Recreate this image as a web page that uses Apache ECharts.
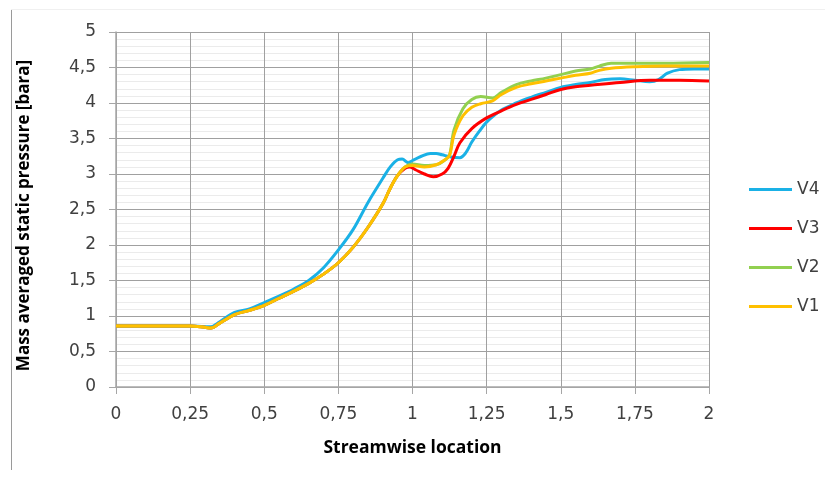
<!DOCTYPE html>
<html>
<head>
<meta charset="utf-8">
<script src="https://cdn.jsdelivr.net/npm/echarts@6/dist/echarts.min.js"></script>
<style>
  html, body { margin: 0; padding: 0; background: #fff; }
  #main { width: 825px; height: 477px; }
</style>
</head>
<body>
<div id="main"></div>
<script>
// streamwise location / pressure
const v4X = [0, 0.1, 0.2, 0.25, 0.3, 0.32, 0.35, 0.4, 0.45, 0.5, 0.55, 0.6, 0.65, 0.7, 0.75, 0.8, 0.85, 0.9, 0.925, 0.95, 0.965, 0.985, 1.0, 1.03, 1.06, 1.08, 1.1, 1.13, 1.16, 1.18, 1.2, 1.225, 1.25, 1.3, 1.35, 1.4, 1.45, 1.5, 1.55, 1.6, 1.65, 1.7, 1.75, 1.8, 1.83, 1.86, 1.9, 1.95, 2.0]
const v4Y = [0.86, 0.86, 0.86, 0.86, 0.85, 0.85, 0.92, 1.05, 1.1, 1.19, 1.28, 1.38, 1.5, 1.68, 1.93, 2.22, 2.6, 2.94, 3.1, 3.2, 3.21, 3.16, 3.19, 3.25, 3.29, 3.29, 3.27, 3.24, 3.23, 3.3, 3.45, 3.6, 3.73, 3.9, 4.0, 4.08, 4.15, 4.22, 4.26, 4.29, 4.33, 4.34, 4.32, 4.3, 4.33, 4.42, 4.47, 4.48, 4.48]

const v3X = [0, 0.1, 0.2, 0.25, 0.3, 0.32, 0.35, 0.4, 0.45, 0.5, 0.55, 0.6, 0.65, 0.7, 0.75, 0.8, 0.85, 0.9, 0.925, 0.95, 0.975, 0.99, 1.01, 1.04, 1.07, 1.1, 1.12, 1.14, 1.16, 1.2, 1.25, 1.3, 1.35, 1.4, 1.45, 1.5, 1.55, 1.6, 1.7, 1.8, 1.9, 2.0]
const v3Y = [0.86, 0.86, 0.86, 0.86, 0.84, 0.83, 0.9, 1.02, 1.08, 1.15, 1.25, 1.35, 1.46, 1.59, 1.75, 1.97, 2.25, 2.58, 2.8, 2.98, 3.08, 3.1, 3.06, 3.0, 2.96, 3.0, 3.08, 3.25, 3.44, 3.64, 3.79, 3.89, 3.98, 4.05, 4.12, 4.19, 4.23, 4.25, 4.29, 4.32, 4.32, 4.31]

const v2X = [0, 0.1, 0.2, 0.25, 0.3, 0.32, 0.35, 0.4, 0.45, 0.5, 0.55, 0.6, 0.65, 0.7, 0.75, 0.8, 0.85, 0.9, 0.925, 0.95, 0.975, 1.0, 1.04, 1.08, 1.11, 1.125, 1.14, 1.17, 1.2, 1.23, 1.27, 1.3, 1.35, 1.4, 1.45, 1.5, 1.55, 1.6, 1.63, 1.67, 1.75, 1.85, 2.0]
const v2Y = [0.86, 0.86, 0.86, 0.86, 0.84, 0.83, 0.9, 1.02, 1.08, 1.15, 1.25, 1.35, 1.46, 1.59, 1.75, 1.97, 2.25, 2.58, 2.8, 2.98, 3.1, 3.14, 3.12, 3.13, 3.2, 3.27, 3.62, 3.92, 4.05, 4.09, 4.07, 4.15, 4.26, 4.31, 4.35, 4.4, 4.45, 4.48, 4.52, 4.56, 4.56, 4.56, 4.57]

const v1X = [0, 0.1, 0.2, 0.25, 0.3, 0.32, 0.35, 0.4, 0.45, 0.5, 0.55, 0.6, 0.65, 0.7, 0.75, 0.8, 0.85, 0.9, 0.925, 0.95, 0.975, 1.0, 1.04, 1.08, 1.11, 1.125, 1.14, 1.17, 1.2, 1.23, 1.27, 1.3, 1.35, 1.4, 1.45, 1.5, 1.55, 1.6, 1.63, 1.67, 1.75, 1.85, 2.0]
const v1Y = [0.86, 0.86, 0.86, 0.86, 0.84, 0.83, 0.9, 1.02, 1.08, 1.15, 1.25, 1.35, 1.46, 1.59, 1.75, 1.97, 2.25, 2.58, 2.8, 2.98, 3.1, 3.12, 3.1, 3.13, 3.2, 3.26, 3.55, 3.82, 3.94, 3.99, 4.03, 4.12, 4.22, 4.27, 4.31, 4.35, 4.39, 4.42, 4.46, 4.49, 4.51, 4.52, 4.52]

const seriesNames = ['V4', 'V3', 'V2', 'V1']
const seriesColors = ['#1ab1e6', '#ff0000', '#92d050', '#ffc000']
const seriesXs = [v4X, v3X, v2X, v1X]
const seriesYs = [v4Y, v3Y, v2Y, v1Y]

const chart = echarts.init(document.getElementById('main'))

const commaFmt = (v) => String(v).replace('.', ',')
const labelFont = '"DejaVu Sans", sans-serif'
const titleFont = '"Open Sans", "DejaVu Sans", sans-serif'

const series = seriesNames.map((name, i) => ({
  name: name,
  type: 'line',
  smooth: 0.35,
  showSymbol: false,
  symbol: 'none',
  lineStyle: { width: 3, color: seriesColors[i] },
  itemStyle: { color: seriesColors[i] },
  data: seriesXs[i].map((x, j) => [x, seriesYs[i][j]]),
}))

const option = {
  animation: false,
  backgroundColor: '#fff',
  grid: { left: 116, right: 116, top: 32, bottom: 90 },
  legend: {
    orient: 'vertical',
    left: 744,
    top: 176,
    icon: 'rect',
    itemWidth: 43,
    itemHeight: 3,
    itemGap: 22,
    textStyle: { fontFamily: labelFont, fontSize: 17, color: '#404040', lineHeight: 17 },
    data: seriesNames,
  },
  xAxis: {
    type: 'value',
    min: 0,
    max: 2,
    interval: 0.25,
    name: 'Streamwise location',
    nameLocation: 'middle',
    nameGap: 52,
    nameTextStyle: { fontFamily: titleFont, fontSize: 17.5, fontWeight: 'bold', color: '#000' },
    axisLine: { show: true, lineStyle: { color: '#a6a6a6', width: 1.5 } },
    axisTick: { show: true, length: 7, lineStyle: { color: '#a6a6a6' } },
    axisLabel: { formatter: commaFmt, fontFamily: labelFont, fontSize: 17, color: '#404040', margin: 19 },
    splitLine: { show: true, lineStyle: { color: '#a0a0a0', width: 1 } },
  },
  yAxis: {
    type: 'value',
    min: 0,
    max: 5,
    interval: 0.5,
    name: 'Mass averaged static pressure [bara]',
    nameLocation: 'middle',
    nameGap: 83,
    nameTextStyle: { fontFamily: titleFont, fontSize: 17, fontWeight: 'bold', color: '#000', padding: [0, 12, 0, 0] },
    axisLine: { show: true, lineStyle: { color: '#a6a6a6', width: 1.5 } },
    axisTick: { show: true, length: 7, lineStyle: { color: '#a6a6a6' } },
    axisLabel: { formatter: commaFmt, fontFamily: labelFont, fontSize: 17, color: '#404040', margin: 20 },
    splitLine: { show: true, lineStyle: { color: '#a0a0a0', width: 1 } },
    minorTick: { show: false, splitNumber: 5 },
    minorSplitLine: { show: true, lineStyle: { color: '#ebebeb', width: 1 } },
  },
  graphic: [
    { type: 'line', shape: { x1: 11.5, y1: 10, x2: 11.5, y2: 470 }, style: { stroke: '#9a9a9a', lineWidth: 1 } },
    { type: 'line', shape: { x1: 11, y1: 9.5, x2: 825, y2: 9.5 }, style: { stroke: '#f0f0f0', lineWidth: 1 } },
  ],
  series: series,
}

chart.setOption(option)
</script>
</body>
</html>
